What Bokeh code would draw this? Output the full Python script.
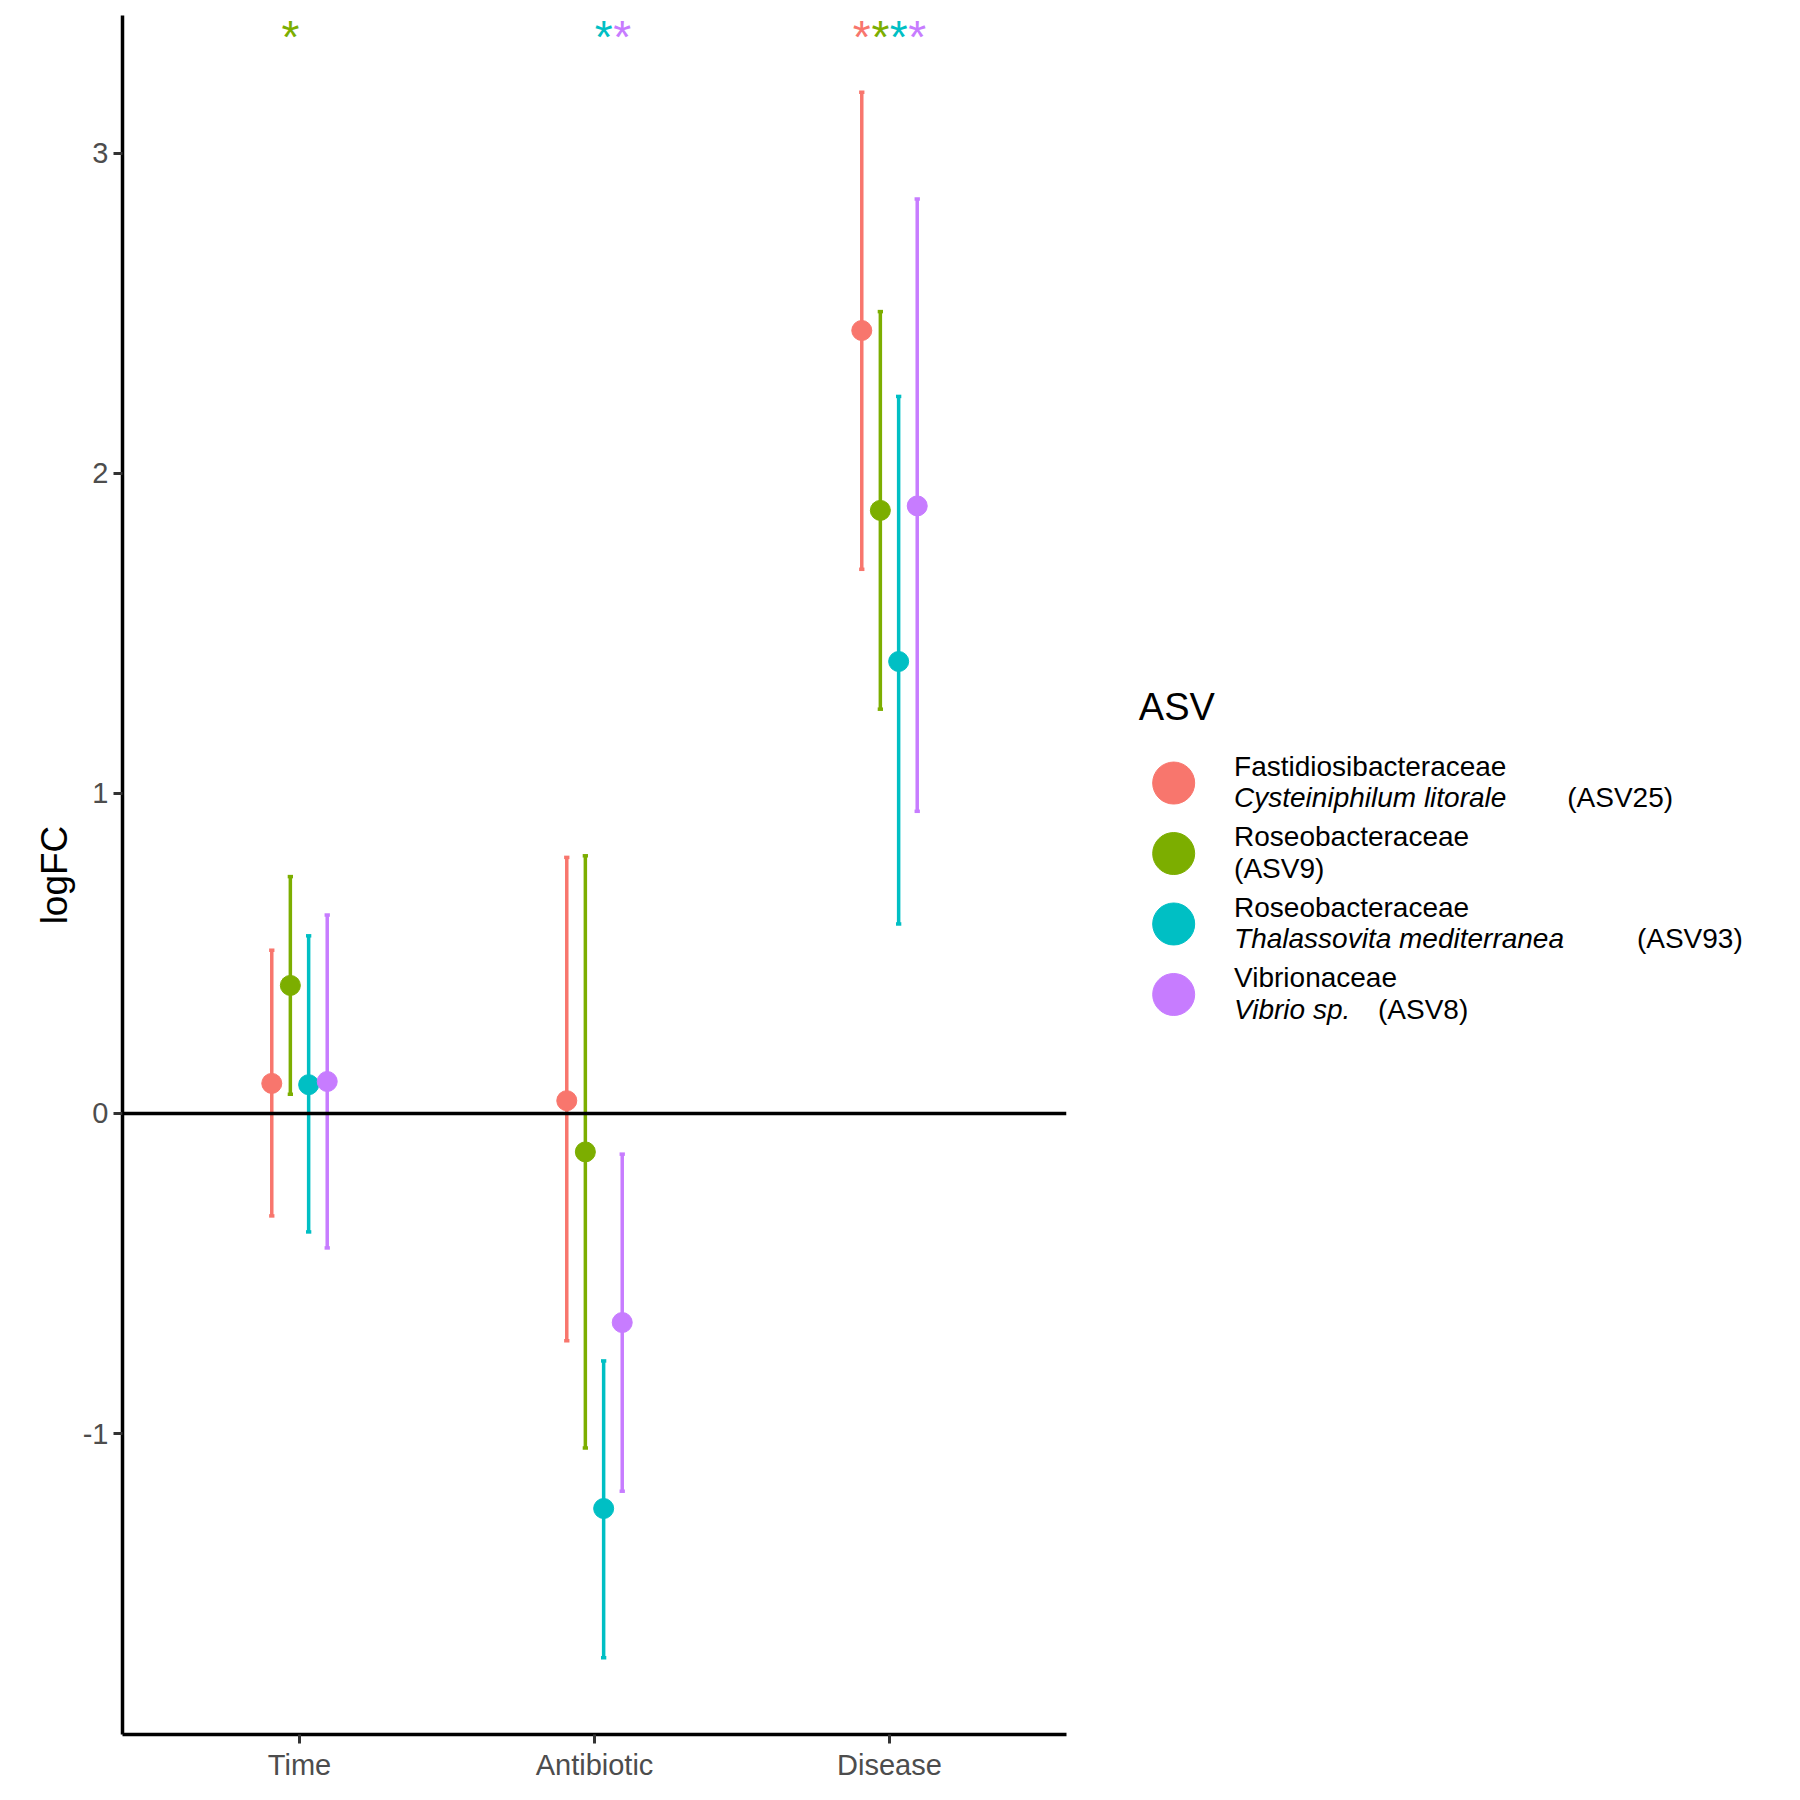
from bokeh.plotting import figure
from bokeh.layouts import row
from bokeh.models import ColumnDataSource, Range1d, Span, FixedTicker
from bokeh.core.properties import value
from bokeh.embed import file_html
from bokeh.resources import INLINE

groups = ["Time", "Antibiotic", "Disease"]
asvs = ["ASV25", "ASV9", "ASV93", "ASV8"]
colors = ["#F8766D", "#7CAE00", "#00BFC4", "#C77CFF"]
offsets = [-0.094, -0.031, 0.031, 0.094]

# logFC per ASV, ordered Time, Antibiotic, Disease
logfc = {
    "ASV25": [0.094, 0.04, 2.446],
    "ASV9": [0.40, -0.12, 1.884],
    "ASV93": [0.09, -1.234, 1.412],
    "ASV8": [0.10, -0.653, 1.898],
}
low = {
    "ASV25": [-0.32, -0.71, 1.70],
    "ASV9": [0.06, -1.045, 1.263],
    "ASV93": [-0.37, -1.70, 0.592],
    "ASV8": [-0.42, -1.18, 0.944],
}
high = {
    "ASV25": [0.51, 0.80, 3.19],
    "ASV9": [0.74, 0.805, 2.505],
    "ASV93": [0.555, -0.773, 2.24],
    "ASV8": [0.62, -0.127, 2.857],
}
signif = {
    "ASV25": [False, False, True],
    "ASV9": [True, False, True],
    "ASV93": [False, True, True],
    "ASV8": [False, True, True],
}
star_y = 3.40

legend_family = ["Fastidiosibacteraceae", "Roseobacteraceae", "Roseobacteraceae", "Vibrionaceae"]
legend_species = ["Cysteiniphilum litorale", "", "Thalassovita mediterranea", "Vibrio sp."]
legend_suffix = ["(ASV25)", "(ASV9)", "(ASV93)", "(ASV8)"]

FONT = "Liberation Sans"

p = figure(width=1076, height=1784, output_backend="svg", toolbar_location=None,
           x_range=Range1d(0.40, 3.60), y_range=Range1d(-1.94, 3.43),
           min_border_left=122, min_border_right=10, min_border_top=15, min_border_bottom=50)
p.outline_line_color = None
p.xgrid.grid_line_color = None
p.ygrid.grid_line_color = None

p.add_layout(Span(location=0, dimension="width", line_color="black", line_width=3.5))

cap = 0.009
for i, a in enumerate(asvs):
    xs = [k + 1 + offsets[i] for k in range(3)]
    src = ColumnDataSource(dict(x=xs, y=logfc[a], lo=low[a], hi=high[a],
                                xl=[x - cap for x in xs], xr=[x + cap for x in xs]))
    p.segment(x0="x", y0="lo", x1="x", y1="hi", source=src, line_color=colors[i], line_width=3.5)
    p.segment(x0="xl", y0="lo", x1="xr", y1="lo", source=src, line_color=colors[i], line_width=3.5)
    p.segment(x0="xl", y0="hi", x1="xr", y1="hi", source=src, line_color=colors[i], line_width=3.5)
    p.scatter(x="x", y="y", source=src, size=20, color=colors[i])
    sx = [x for x, s in zip(xs, signif[a]) if s]
    p.text(x=sx, y=[star_y] * len(sx), text=["*"] * len(sx), text_color=colors[i],
           text_align="center", text_baseline="middle", text_font_size="46px",
           text_font=value(FONT), y_offset=12)

p.xaxis.ticker = FixedTicker(ticks=[1, 2, 3])
p.xaxis.major_label_overrides = {1: groups[0], 2: groups[1], 3: groups[2]}
p.yaxis.ticker = FixedTicker(ticks=[-1, 0, 1, 2, 3])
p.yaxis.major_label_overrides = {-1: "-1"}
for ax in (p.xaxis, p.yaxis):
    ax.axis_line_width = 3.5
    ax.axis_line_color = "black"
    ax.major_tick_line_width = 3
    ax.major_tick_line_color = "#333333"
    ax.major_tick_out = 9
    ax.major_tick_in = 0
    ax.minor_tick_line_color = None
    ax.major_label_text_font = FONT
    ax.major_label_text_font_size = "29px"
    ax.major_label_text_color = "#4d4d4d"
p.yaxis.axis_label = "logFC"
p.yaxis.axis_label_text_font = FONT
p.yaxis.axis_label_text_font_size = "37px"
p.yaxis.axis_label_text_font_style = "normal"
p.yaxis.axis_label_text_color = "black"

# legend panel (coordinates in reference-image pixels)
lg = figure(width=708, height=1784, output_backend="svg", toolbar_location=None,
            x_range=Range1d(-9.7, 600.1), y_range=Range1d(1543.5, 6.9),
            min_border=0)
lg.axis.visible = False
lg.grid.visible = False
lg.outline_line_color = None
lg.text(x=[44], y=[625], text=["ASV"], text_font=value(FONT), text_font_size="38px",
        text_baseline="middle")
ys = [693 + 63 * i for i in range(4)]
lg.scatter(x=[74] * 4, y=ys, size=42, color=colors)
lg.text(x=[126] * 4, y=[y - 15 for y in ys], text=legend_family, text_font=value(FONT),
        text_font_size="28px", text_baseline="middle")
widths = [281, 0, 341, 118]
for i in range(4):
    y2 = ys[i] + 13
    if legend_species[i]:
        lg.text(x=[126], y=[y2], text=[legend_species[i]], text_font=value(FONT),
                text_font_size="28px", text_font_style="italic", text_baseline="middle")
    lg.text(x=[126 + widths[i] + (6 if widths[i] else 0)], y=[y2], text=[legend_suffix[i]],
            text_font=value(FONT), text_font_size="28px", text_baseline="middle")

open("out.html", "w").write(file_html(row(p, lg), INLINE))
